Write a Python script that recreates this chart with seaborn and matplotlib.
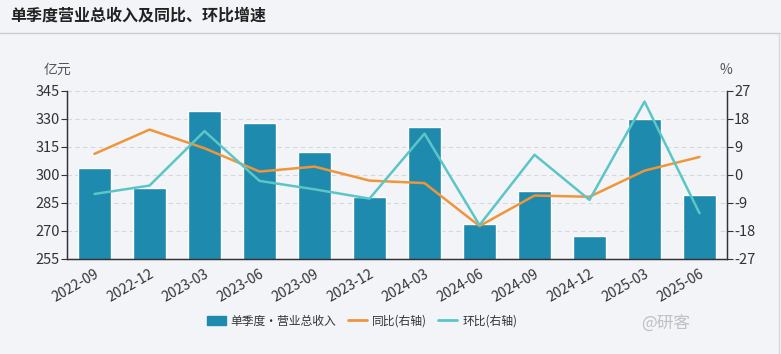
import numpy as np
import pandas as pd
import matplotlib
matplotlib.use('Agg')
import matplotlib.pyplot as plt
import seaborn as sns

quarters = ['2022-09', '2022-12', '2023-03', '2023-06', '2023-09', '2023-12',
            '2024-03', '2024-06', '2024-09', '2024-12', '2025-03', '2025-06']
revenue = [304.0, 293.0, 334.3, 327.7, 312.1, 288.1, 325.7, 273.6, 291.3, 267.5, 330.2, 289.1]
yoy = [6.8, 14.6, 8.6, 1.1, 2.7, -1.8, -2.6, -16.4, -6.6, -7.0, 1.4, 5.8]
qoq = [-6.1, -3.4, 14.1, -1.9, -4.6, -7.6, 13.3, -16.1, 6.5, -8.0, 23.6, -12.3]
left_ticks = [255, 270, 285, 300, 315, 330, 345]
right_ticks = [-27, -18, -9, 0, 9, 18, 27]

BG = '#f3f4f8'
BAR = '#1e8aad'
ORANGE = '#f0953a'
TEAL = '#5cc5c6'
AXC = '#333333'

sns.set_theme(style='white')
plt.rcParams['font.family'] = ['Noto Sans CJK SC', 'DejaVu Sans']
plt.rcParams['axes.unicode_minus'] = False

df = pd.DataFrame({'quarter': quarters, 'revenue': revenue, 'yoy': yoy, 'qoq': qoq})

fig = plt.figure(figsize=(7.81, 3.54), dpi=100, facecolor=BG)
ax = fig.add_axes([67 / 781, 1 - 259 / 354, 660 / 781, 168 / 354])
ax.set_facecolor(BG)

sns.barplot(data=df, x='quarter', y='revenue', color=BAR, saturation=1, width=0.6, ax=ax)
ax.set_ylim(255, 345)
ax.set_yticks(left_ticks)
ax.set_xlim(-0.5, 11.5)
for y in left_ticks[1:]:
    ax.axhline(y, color='#d5d8de', lw=0.8, ls=(0, (4, 3)), zorder=0)
ax.set_axisbelow(True)

ax2 = ax.twinx()
sns.lineplot(data=df, x='quarter', y='yoy', color=ORANGE, lw=1.8, sort=False, ax=ax2)
sns.lineplot(data=df, x='quarter', y='qoq', color=TEAL, lw=1.8, sort=False, ax=ax2)
ax2.set_ylim(-27, 27)
ax2.set_yticks(right_ticks)
ax2.set_xlim(-0.5, 11.5)

for a in (ax, ax2):
    a.set_xlabel('')
    a.set_ylabel('')
    for s in a.spines.values():
        s.set_color(AXC)
        s.set_linewidth(0.9)
    a.spines['top'].set_visible(False)
    a.tick_params(colors=AXC, labelsize=10.5, length=4, width=0.8, pad=1)

ax.tick_params(axis='x', length=5, labelsize=10)
ax.set_xticks(range(len(quarters)))
ax.set_xticklabels(quarters, rotation=30, ha='right', rotation_mode='anchor')

fig.text(57 / 781, 1 - 70 / 354, '亿元', fontsize=10, color='#555555', ha='center', va='center')
fig.text(726 / 781, 1 - 70 / 354, '%', fontsize=10, color='#555555', ha='center', va='center')

# title strip
fig.text(10 / 781, 1 - 16 / 354, '单季度营业总收入及同比、环比增速', fontsize=11.5,
         fontweight='bold', color='#222222', ha='left', va='center')
fig.add_artist(plt.Line2D([0, 1], [1 - 33 / 354, 1 - 33 / 354], color='#c9ccd2', lw=1))
fig.add_artist(plt.Line2D([779 / 781, 779 / 781], [0, 1 - 33 / 354], color='#d5d8de', lw=1))

# legend
handles = [plt.Rectangle((0, 0), 1, 1, color=BAR),
           plt.Line2D([], [], color=ORANGE, lw=2),
           plt.Line2D([], [], color=TEAL, lw=2)]
labels = ['单季度·营业总收入', '同比(右轴)', '环比(右轴)']
fig.legend(handles, labels, loc='center', bbox_to_anchor=(362 / 781, 1 - 321 / 354),
           ncol=3, frameon=False, fontsize=8.5, handlelength=1.6, handleheight=0.9,
           columnspacing=1.0, handletextpad=0.4, labelcolor='#333333')

fig.text(690 / 781, 1 - 324 / 354, '@研客', fontsize=12, color='#c0c0c0', ha='right', va='center')

fig.savefig('out.png', dpi=100, facecolor=BG)
